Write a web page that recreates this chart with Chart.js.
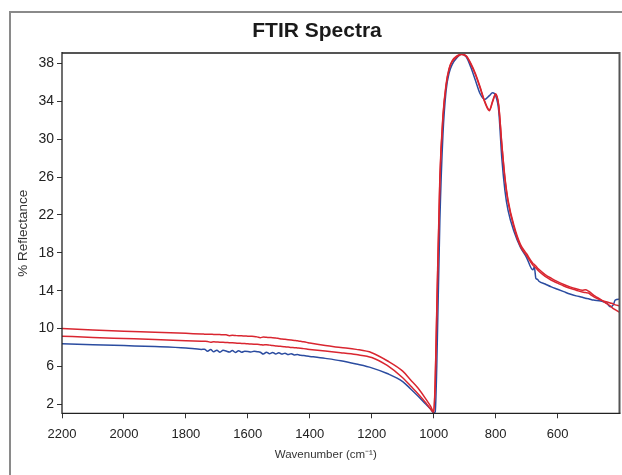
<!DOCTYPE html>
<html>
<head>
<meta charset="utf-8">
<script src="https://cdn.jsdelivr.net/npm/chart.js@4"></script>
<style>
html,body{margin:0;padding:0;background:#fff;}
canvas{display:block;}
</style>
</head>
<body>
<canvas id="c" width="622" height="475"></canvas>
<script>
const chartTitle = "FTIR Spectra";
const xTitle = "Wavenumber (cm\u207B\u00B9)";
const yTitle = "% Reflectance";

const xTicks = [2200, 2000, 1800, 1600, 1400, 1200, 1000, 800, 600];
const yTicks = [2, 6, 10, 14, 18, 22, 26, 30, 34, 38];

const wavenumbers = [2200, 2100, 2000, 1900, 1800,
  1750, 1740, 1730, 1720, 1710, 1700, 1690, 1680, 1670, 1660, 1650, 1640, 1630, 1620, 1610, 1600, 1590, 1580,
  1570, 1560, 1550, 1540, 1530, 1520, 1510, 1500, 1490, 1480, 1470, 1460, 1450, 1440, 1430, 1420, 1410, 1400,
  1350, 1300, 1250, 1200, 1150, 1100, 1075, 1050, 1025, 1010,
  1000, 995, 990, 980, 970, 960, 950, 940, 925, 910,
  895, 880, 865, 850, 835, 820, 810, 800, 790, 780,
  770, 760, 740, 720, 700, 680, 675, 670, 665, 660,
  640, 620, 600, 580, 560, 540, 520, 510, 500, 490,
  480, 460, 440, 430, 420, 414, 400];

const redUpper = [10.0, 9.85, 9.72, 9.62, 9.5,
  9.42, 9.41, 9.4, 9.39, 9.38, 9.37, 9.36, 9.35, 9.34, 9.25, 9.28, 9.26, 9.24, 9.23, 9.21, 9.2, 9.18, 9.16,
  9.12, 9.04, 9.1, 9.08, 9.05, 9.04, 9.0, 8.95, 8.9, 8.86, 8.82, 8.78, 8.74, 8.7, 8.65, 8.6, 8.54, 8.47,
  8.2, 8.0, 7.8, 7.45, 6.6, 5.5, 4.6, 3.7, 2.55, 1.8,
  1.2, 4.5, 12.0, 26.0, 32.5, 35.8, 37.5, 38.3, 38.8, 39.0,
  38.8, 38.0, 36.9, 35.5, 34.0, 33.1, 34.0, 34.8, 33.6, 29.5,
  26.0, 23.6, 20.8, 18.9, 17.9, 16.9, 16.75, 16.6, 16.4, 16.25,
  15.7, 15.3, 14.95, 14.65, 14.4, 14.2, 14.05, 14.1, 13.95, 13.7,
  13.45, 13.05, 12.6, 12.4, 12.1, 12.0, 11.7];

const redLower = [9.2, 9.05, 8.95, 8.85, 8.72,
  8.66, 8.65, 8.64, 8.55, 8.6, 8.58, 8.56, 8.55, 8.53, 8.51, 8.49, 8.47, 8.45, 8.43, 8.41, 8.39, 8.37, 8.35,
  8.33, 8.3, 8.27, 8.3, 8.25, 8.2, 8.17, 8.14, 8.1, 8.07, 8.04, 8.0, 7.98, 7.95, 7.92, 7.88, 7.84, 7.8,
  7.62, 7.45, 7.25, 6.95, 6.1, 4.8, 3.95, 3.1, 2.15, 1.5,
  1.15, 4.2, 11.5, 25.6, 32.3, 35.6, 37.4, 38.2, 38.7, 38.95,
  38.75, 37.9, 36.8, 35.4, 33.9, 33.0, 33.9, 34.7, 33.5, 29.4,
  25.8, 23.4, 20.6, 18.7, 17.7, 16.7, 16.55, 16.4, 16.2, 16.05,
  15.5, 15.1, 14.8, 14.5, 14.25, 14.05, 13.85, 13.8, 13.75, 13.5,
  13.3, 13.0, 12.8, 12.7, 12.6, 12.5, 12.4];

const blueSeries = [8.4, 8.3, 8.2, 8.1, 7.95,
  7.8, 7.82, 7.6, 7.78, 7.55, 7.72, 7.5, 7.7, 7.62, 7.52, 7.68, 7.48, 7.66, 7.5, 7.6, 7.58, 7.52, 7.6,
  7.55, 7.5, 7.3, 7.5, 7.35, 7.48, 7.32, 7.45, 7.3, 7.4, 7.25, 7.35, 7.22, 7.25, 7.18, 7.15, 7.1, 7.06,
  6.85, 6.6, 6.25, 5.85, 5.25, 4.4, 3.65, 2.85, 2.0, 1.5,
  1.1, 1.2, 6.0, 21.4, 30.5, 35.1, 37.0, 37.9, 38.6, 39.0,
  38.7, 37.6, 36.2, 34.8, 34.2, 34.6, 34.9, 34.6, 33.0, 28.0,
  24.6, 22.5, 20.2, 18.6, 17.5, 16.2, 16.5, 15.3, 15.2, 15.0,
  14.7, 14.4, 14.15, 13.9, 13.65, 13.45, 13.3, 13.2, 13.15, 13.05,
  13.0, 12.9, 12.65, 12.3, 12.5, 13.0, 13.1];

const RED = '#d92630';
const BLUE = '#2b4ca0';
const FONT = "'Liberation Sans', Arial, sans-serif";

function pts(vals){ return wavenumbers.map((w,i)=>({x:w, y:vals[i]})); }

const decor = {
  id:'decor',
  beforeDraw(chart){
    const ctx = chart.ctx;
    ctx.save();
    ctx.fillStyle = '#fff';
    ctx.fillRect(0,0,chart.width,chart.height);
    ctx.strokeStyle = '#8a8a8a';
    ctx.lineWidth = 2;
    ctx.beginPath();
    ctx.moveTo(10, chart.height + 5);
    ctx.lineTo(10, 12);
    ctx.lineTo(chart.width + 5, 12);
    ctx.stroke();
    ctx.restore();
  },
  afterDraw(chart){
    const ctx = chart.ctx, a = chart.chartArea;
    ctx.save();
    ctx.lineWidth = 2;
    ctx.strokeStyle = '#555';
    ctx.beginPath();
    ctx.moveTo(a.left, a.top);
    ctx.lineTo(a.right, a.top);
    ctx.lineTo(a.right, a.bottom);
    ctx.stroke();
    ctx.lineWidth = 1.3;
    ctx.strokeStyle = '#222';
    ctx.beginPath();
    ctx.moveTo(a.left, a.top - 1);
    ctx.lineTo(a.left, a.bottom);
    ctx.lineTo(a.right + 1, a.bottom);
    ctx.stroke();

    ctx.fillStyle = '#1a1a1a';
    ctx.textAlign = 'center';
    ctx.textBaseline = 'middle';
    ctx.font = "bold 21px " + FONT;
    ctx.fillText(chartTitle, 317, 31);

    ctx.fillStyle = '#333';
    ctx.font = "11.5px " + FONT;
    ctx.fillText(xTitle, (a.left + a.right)/2 - 15, 455);

    ctx.translate(23, (a.top + a.bottom)/2);
    ctx.rotate(-Math.PI/2);
    ctx.font = "13.5px " + FONT;
    ctx.fillText(yTitle, 0, 0);
    ctx.restore();
  }
};

new Chart(document.getElementById('c'), {
  type: 'line',
  data: {
    datasets: [
      {data: pts(redUpper), borderColor: RED, borderWidth: 1.5},
      {data: pts(redLower), borderColor: RED, borderWidth: 1.5},
      {data: pts(blueSeries), borderColor: BLUE, borderWidth: 1.5}
    ]
  },
  options: {
    responsive: false,
    animation: false,
    layout: {padding: {top: 53, right: 2.5, left: 0, bottom: 0}},
    plugins: {legend: {display: false}, title: {display: false}, tooltip: {enabled: false}},
    elements: {point: {radius: 0}, line: {cubicInterpolationMode: 'monotone', fill: false}},
    scales: {
      x: {
        type: 'linear', reverse: true, min: 400, max: 2200,
        afterBuildTicks: s => { s.ticks = xTicks.map(v => ({value: v})); },
        afterFit: s => { s.height = 61.7; },
        grid: {drawOnChartArea: false, drawTicks: true, tickLength: 5, color: '#333'},
        border: {display: false},
        ticks: {autoSkip: false, maxRotation: 0, padding: 8, color: '#222', font: {family: FONT, size: 13},
                callback: v => String(v)}
      },
      y: {
        type: 'linear', min: 1.05, max: 39.1,
        afterBuildTicks: s => { s.ticks = yTicks.map(v => ({value: v})); },
        afterFit: s => { s.width = 62; },
        grid: {drawOnChartArea: false, drawTicks: true, tickLength: 5, color: '#333'},
        border: {display: false},
        ticks: {autoSkip: false, padding: 3, color: '#222', font: {family: FONT, size: 14},
                callback: v => String(v)}
      }
    }
  },
  plugins: [decor]
});
</script>
</body>
</html>
